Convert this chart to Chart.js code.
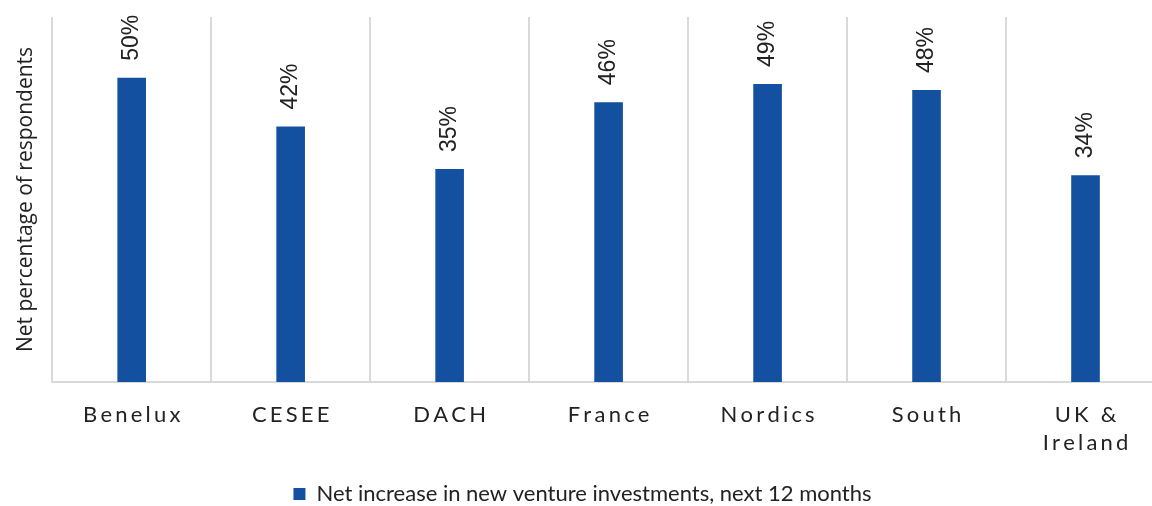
<!DOCTYPE html>
<html>
<head>
<meta charset="utf-8">
<script src="https://cdn.jsdelivr.net/npm/chart.js@4"></script>
<style>
  html, body { margin: 0; padding: 0; background: #ffffff; overflow: hidden; }
  #wrap { position: relative; width: 1166px; height: 506px; }
</style>
</head>
<body>
<div id="wrap"><canvas id="chart"></canvas></div>
<script>
// ---- data ----
const categories = ['Benelux', 'CESEE', 'DACH', 'France', 'Nordics', 'South', ['UK &', 'Ireland']];
const netIncrease = [50, 42, 35, 46, 49, 48, 34];
const seriesLabel = 'Net increase in new venture investments, next 12 months';
const yAxisTitle = 'Net percentage of respondents';
const yMin = 0;
const yMax = 60;

const BAR_BLUE = '#1450a0';
const TEXT = '#222222';
const GRID = '#d9d9d9';
const TICK_FONT = "22px Lato, sans-serif";
const TICK_TRACKING = 3.2;

// draw a string one glyph at a time so the category names get wide tracking
function drawTracked(ctx, str, cx, y, spacing) {
  const widths = Array.from(str).map(ch => ctx.measureText(ch).width);
  const total = widths.reduce((a, b) => a + b, 0) + spacing * (widths.length - 1);
  let x = cx - total / 2;
  Array.from(str).forEach((ch, k) => {
    ctx.fillText(ch, x, y);
    x += widths[k] + spacing;
  });
}

const customText = {
  id: 'customText',
  afterDatasetsDraw(chart) {
    const ctx = chart.ctx;
    const meta = chart.getDatasetMeta(0);
    ctx.save();
    ctx.font = "23px 'Liberation Sans', Arial, sans-serif";
    ctx.fillStyle = TEXT;
    ctx.textAlign = 'left';
    ctx.textBaseline = 'middle';
    meta.data.forEach((bar, i) => {
      ctx.save();
      ctx.translate(bar.x, bar.y - 17);
      ctx.rotate(-Math.PI / 2);
      ctx.fillText(netIncrease[i] + '%', 0, 0);
      ctx.restore();
    });
    ctx.restore();
  },
  afterDraw(chart) {
    const ctx = chart.ctx;
    const xs = chart.scales.x;
    ctx.save();
    ctx.font = TICK_FONT;
    ctx.fillStyle = TEXT;
    ctx.textAlign = 'left';
    ctx.textBaseline = 'alphabetic';
    categories.forEach((cat, i) => {
      const lines = Array.isArray(cat) ? cat : [cat];
      const cx = xs.getPixelForTick(i);
      lines.forEach((line, j) => {
        drawTracked(ctx, line, cx, chart.chartArea.bottom + 40 + j * 28, TICK_TRACKING);
      });
    });
    ctx.restore();
  }
};

new Chart(document.getElementById('chart'), {
  type: 'bar',
  data: {
    labels: categories,
    datasets: [{
      label: seriesLabel,
      data: netIncrease,
      backgroundColor: BAR_BLUE,
      borderWidth: 0,
      barPercentage: 0.18,
      categoryPercentage: 1,
    }]
  },
  options: {
    responsive: true,
    maintainAspectRatio: false,
    animation: false,
    layout: { padding: { top: 17, right: 1, left: 0, bottom: -9 } },
    scales: {
      x: {
        grid: { display: true, color: GRID, lineWidth: 2, drawTicks: false, offset: true },
        border: { display: true, color: GRID, width: 2 },
        ticks: {
          color: 'rgba(0,0,0,0)',   // labels drawn by customText
          font: { family: 'Lato, sans-serif', size: 22, lineHeight: 1.0 },
          padding: 28,
          maxRotation: 0,
          autoSkip: false,
        },
      },
      y: {
        min: yMin,
        max: yMax,
        grid: { display: false, drawTicks: false },
        border: { display: false },
        ticks: { display: false },
        title: {
          display: true,
          text: yAxisTitle,
          color: TEXT,
          font: { family: "'Open Sans', sans-serif", size: 21, lineHeight: 1.2 },
          padding: { top: 13, bottom: 14 },
        },
      }
    },
    plugins: {
      legend: {
        display: true,
        position: 'bottom',
        labels: {
          boxWidth: 12,
          boxHeight: 12,
          padding: 1,
          color: TEXT,
          font: { family: 'Lato, sans-serif', size: 22 },
        }
      },
      tooltip: { enabled: false },
    }
  },
  plugins: [customText]
});
</script>
</body>
</html>
